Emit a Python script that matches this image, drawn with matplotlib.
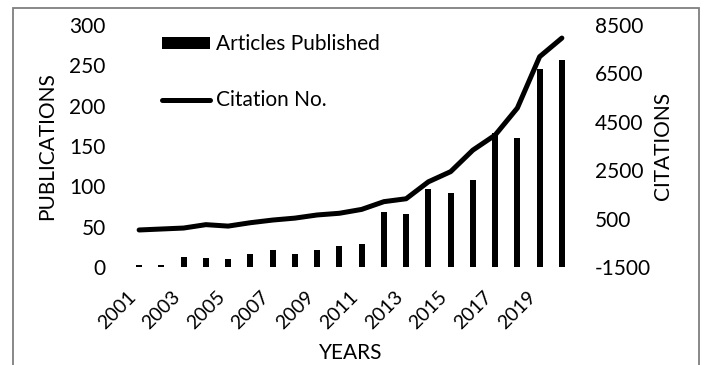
import numpy as np
import matplotlib
matplotlib.use("Agg")
import matplotlib.pyplot as plt
from matplotlib.patches import Rectangle

plt.rcParams['font.family'] = ['Lato', 'DejaVu Sans']
plt.rcParams['axes.unicode_minus'] = False

# values
years = list(range(2001, 2021))
publications = [2, 2, 13, 11, 10, 16, 21, 16, 21, 26, 28, 68, 66, 97, 92, 108, 166, 160, 245, 257]
citations = [30, 70, 110, 250, 190, 330, 440, 520, 650, 720, 880, 1200, 1320, 2020, 2440,
             3330, 3950, 5070, 7190, 7960]
left_ticks = [0, 50, 100, 150, 200, 250, 300]
right_ticks = [-1500, 500, 2500, 4500, 6500, 8500]

W, H = 704, 365
fig = plt.figure(figsize=(W / 100, H / 100), dpi=100)
ax = fig.add_axes([128 / W, 98 / H, 445 / W, 242 / H])
ax2 = ax.twinx()

x = np.arange(len(years))
bars = ax.bar(x, publications, width=0.27, color='black', label='Articles Published', zorder=2)
line, = ax2.plot(x, citations, color='black', lw=3.6, solid_joinstyle='round',
                 solid_capstyle='round', label='Citation No.', zorder=3)

fs = 15
ax.set_xlim(-0.5, len(years) - 0.5)
ax.set_ylim(0, 300)
ax.set_yticks(left_ticks)
ax2.set_ylim(-1500, 8500)
ax2.set_yticks(right_ticks)
ax.set_xticks(x[::2])
ax.set_xticklabels([str(y) for y in years[::2]], rotation=45, ha='right', fontsize=14)

for a in (ax, ax2):
    for s in a.spines.values():
        s.set_visible(False)
    a.tick_params(length=0, labelsize=fs)
ax.tick_params(axis='x', labelsize=14)
ax.tick_params(axis='y', pad=16)
ax2.tick_params(axis='y', pad=16)
ax.tick_params(axis='x', pad=15)

ax.set_ylabel('PUBLICATIONS', fontsize=fs, labelpad=9)
ax2.set_ylabel('CITATIONS', fontsize=fs, labelpad=1)
ax.set_xlabel('YEARS', fontsize=fs, labelpad=8)

ax2.legend([bars, line], ['Articles Published', 'Citation No.'], loc='upper left',
           bbox_to_anchor=(34 / 445, 1 - 9 / 242), frameon=False, fontsize=fs,
           handlelength=2.3, handleheight=0.5, handletextpad=0.3,
           labelspacing=1.75, borderpad=0, borderaxespad=0)

# outer frame like the pasted chart area
fig.add_artist(Rectangle((13 / W, -0.05), (699 - 13) / W, 1 - 8 / H + 0.05,
                         transform=fig.transFigure, fill=False, edgecolor='#7f7f7f', lw=1.3))

fig.savefig('out.png', dpi=100)
